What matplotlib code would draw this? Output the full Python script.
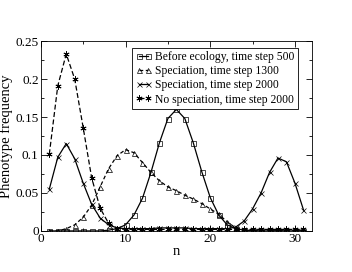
import numpy as np
import matplotlib
matplotlib.use('Agg')
import matplotlib.pyplot as plt
from matplotlib.ticker import MultipleLocator

n = np.arange(1, 32)

before_500 = [0, 0, 0, 0, 0, 0, 0, 0.001, 0.003, 0.008, 0.021, 0.043, 0.077, 0.116, 0.148, 0.160,
              0.148, 0.116, 0.078, 0.044, 0.021, 0.008, 0.003, 0.001, 0, 0, 0, 0, 0, 0, 0]
spec_1300 = [0, 0, 0.003, 0.008, 0.018, 0.034, 0.058, 0.082, 0.099, 0.107, 0.103, 0.090, 0.077,
             0.066, 0.058, 0.053, 0.047, 0.042, 0.036, 0.029, 0.022, 0.012, 0.004, 0.001, 0.001,
             0.001, 0.001, 0.001, 0.001, 0.001, 0.001]
spec_2000 = [0.055, 0.097, 0.115, 0.095, 0.063, 0.035, 0.017, 0.008, 0.004, 0.003, 0.003, 0.003,
             0.003, 0.004, 0.004, 0.004, 0.004, 0.003, 0.003, 0.003, 0.003, 0.003, 0.005, 0.013,
             0.029, 0.050, 0.077, 0.096, 0.091, 0.063, 0.028]
nospec_2000 = [0.101, 0.191, 0.233, 0.200, 0.136, 0.070, 0.030, 0.010, 0.003, 0.002, 0.002, 0.002,
               0.002, 0.002, 0.002, 0.002, 0.002, 0.002, 0.002, 0.002, 0.002, 0.002, 0.002, 0.002,
               0.002, 0.002, 0.002, 0.002, 0.002, 0.002, 0.002]

plt.rcParams['font.family'] = ['Liberation Serif', 'DejaVu Serif']

fig = plt.figure(figsize=(3.52, 2.72), dpi=100)
ax = fig.add_axes([0.116, 0.151, 0.770, 0.698])

ms = 3.6
lw = 0.9
ax.plot(n, before_500, '-', color='black', lw=lw, marker='s', ms=ms, mfc='none', mew=0.5,
        label='Before ecology, time step 500')
ax.plot(n, spec_1300, '--', color='black', lw=lw, marker='^', ms=ms, mfc='none', mew=0.5,
        dashes=(3, 2), label='Speciation, time step 1300')
ax.plot(n, spec_2000, '-', color='black', lw=lw, marker='x', ms=ms, mew=0.5,
        label='Speciation, time step 2000')
ax.plot(n, nospec_2000, '--', color='black', lw=lw, marker=(6, 2, 0), ms=ms + 0.8, mew=0.6,
        dashes=(4, 2), label='No speciation, time step 2000')

ax.set_xlim(0, 32)
ax.set_ylim(0, 0.25)
ax.set_yticks([0, 0.05, 0.1, 0.15, 0.2, 0.25])
ax.set_yticklabels(['0', '0.05', '0.1', '0.15', '0.2', '0.25'])
ax.set_xticks([0, 10, 20, 30])
ax.set_xticklabels(['0', '10', '20', '30'])
ax.xaxis.set_minor_locator(MultipleLocator(5))
ax.yaxis.set_minor_locator(MultipleLocator(0.025))
ax.tick_params(which='both', direction='in', top=True, right=True, labelsize=9.5, pad=1.5)
ax.tick_params(which='major', length=4, width=0.6)
ax.tick_params(which='minor', length=2.5, width=0.6)
for s in ax.spines.values():
    s.set_linewidth(0.6)

ax.set_xlabel('n', fontsize=10.5, labelpad=0)
ax.set_ylabel('Phenotype frequency', fontsize=10.5, labelpad=2)

leg = ax.legend(loc='upper right', bbox_to_anchor=(0.947, 0.965), fontsize=8.4, numpoints=2,
                handlelength=1.3, handletextpad=0.3, borderpad=0.3, labelspacing=0.18,
                borderaxespad=0, fancybox=False, framealpha=1)
leg.get_frame().set_edgecolor('black')
leg.get_frame().set_linewidth(0.6)

plt.savefig('out.png', dpi=100)
